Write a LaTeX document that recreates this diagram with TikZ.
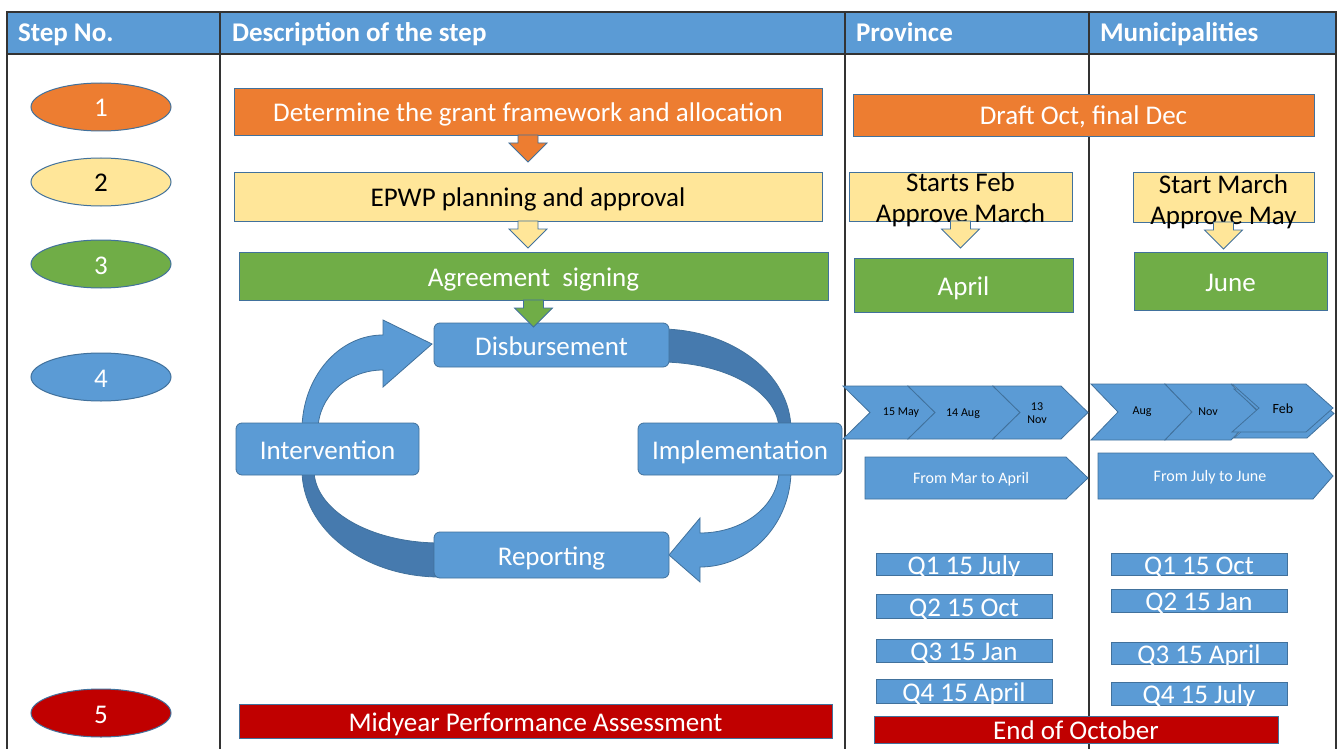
\documentclass[tikz,border=0pt]{standalone}
\usepackage{fontspec}
\setmainfont{Carlito}
\usetikzlibrary{calc,shapes.geometric}

\definecolor{epwpblue}{HTML}{5B9BD5}
\definecolor{epwpedge}{HTML}{41719C}
\definecolor{epwpdark}{HTML}{467AAE}
\definecolor{epwporange}{HTML}{ED7D31}
\definecolor{epwpyellow}{HTML}{FFE699}
\definecolor{epwpgreen}{HTML}{70AD47}
\definecolor{epwpred}{HTML}{C00000}

\newcommand{\bodysize}{\fontsize{27}{31}\selectfont}

% block arrow pointing down out of a box
\newcommand{\blockdown}[2]{%
  \filldraw[fill=#1,draw=epwpedge,line width=0.8pt] (#2) ++(-10,0) -- ++(0,8) -- ++(-9,0)
    -- ++(19,19) -- ++(19,-19) -- ++(-9,0) -- ++(0,-8) -- cycle;}

% chevron: left, top, width, height
\newcommand{\chevron}[4]{%
  \filldraw[fill=epwpblue,draw=epwpedge,line width=0.8pt] (#1,#2) -- ++(#3-27,0) -- ++(27,#4/2)
    -- ++(-27,#4/2) -- ++(-#3+27,0) -- ++(27,-#4/2) -- cycle;}

\begin{document}
\begin{tikzpicture}[x=1pt,y=-1pt,
    every node/.style={inner sep=0pt,outer sep=0pt},
    tablerule/.style={line width=1.4pt,draw=black!80},
    hdr/.style={anchor=base west,text=white,font=\bfseries\bodysize},
    stepno/.style={ellipse,draw=epwpedge,line width=1pt,minimum width=140,minimum height=48,
      text=white,font=\bodysize,text height=20pt,text depth=0pt},
    taskbox/.style={draw=epwpedge,line width=0.8pt,text=white,font=\bodysize,
      text height=20pt,text depth=0pt},
    cyc/.style={taskbox,fill=epwpblue,rounded corners=6pt},
    qbox/.style={taskbox,fill=epwpblue,minimum width=176},
    lightarc/.style={fill=epwpblue,draw=epwpedge,line width=0.8pt},
    darkarc/.style={fill=epwpdark,draw=epwpedge,line width=0.8pt},
    chevtxt/.style={font=\fontsize{12}{13}\selectfont,align=center},
    spantxt/.style={text=white,font=\fontsize{16}{18}\selectfont}]

    \useasboundingbox[fill=white] (0,0) rectangle (1339,749);

    % Table
    \fill[epwpblue] (7,12) rectangle (1336,54);
    \draw[tablerule] (7,749) -- (7,12) -- (1336,12) -- (1336,749);
    \draw[tablerule] (7,54) -- (1336,54);
    \foreach \cx in {220,845,1089}
        \draw[tablerule] (\cx,12) -- (\cx,749);

    \node[hdr] (hstep) at (18,42) {Step No.};
    \node[hdr] (hdesc) at (232,42) {Description of the step};
    \node[hdr] (hprov) at (856,42) {Province};
    \node[hdr] (hmuni) at (1100,42) {Municipalities};

    % Step numbers
    \node[stepno,fill=epwporange] (s1) at (101,107) {1};
    \node[stepno,fill=epwpyellow,text=black] (s2) at (101,182) {2};
    \node[stepno,fill=epwpgreen] (s3) at (101,264) {3};
    \node[stepno,fill=epwpblue] (s4) at (101,377) {4};
    \node[stepno,fill=epwpred] (s5) at (101,713) {5};

    % Steps 1 to 3
    \node[taskbox,fill=epwporange,minimum width=588,minimum height=47] (grant) at (528,111.5)
        {Determine the grant framework and allocation};
    \node[taskbox,fill=epwpyellow,text=black,minimum width=588,minimum height=49] (plan) at (528,196.5)
        {EPWP planning and approval};
    \node[taskbox,fill=epwpgreen,minimum width=589,minimum height=48] (agree) at (533.5,276)
        {Agreement\ \ signing};
    \blockdown{epwporange}{grant.south}
    \blockdown{epwpyellow}{plan.south}

    % Cycle of step 4
    \filldraw[lightarc] (302,430) .. controls (302,378) and (338,335) .. (383,335) -- (383,320)
        -- (432,344) -- (383,387) -- (383,370) .. controls (347,370) and (318,397) .. (318,430) -- cycle;
    \filldraw[darkarc] (660,329) .. controls (732,329) and (791,374) .. (791,430) -- (779,430)
        .. controls (779,392) and (726,362) .. (660,362) -- cycle;
    \filldraw[lightarc] (791,470) .. controls (791,524) and (750,567) .. (700,567) -- (700,582)
        -- (669,555) -- (700,518) -- (700,533) .. controls (744,533) and (779,505) .. (779,470) -- cycle;
    \filldraw[darkarc] (440,577) .. controls (364,577) and (302,529) .. (302,470) -- (314,470)
        .. controls (314,510) and (370,543) .. (440,543) -- cycle;

    \node[cyc,minimum width=235,minimum height=44] (disb) at (551.5,345) {Disbursement};
    \node[cyc,minimum width=204,minimum height=52] (impl) at (740,449) {Implementation};
    \node[cyc,minimum width=235,minimum height=46] (repo) at (551.5,555) {Reporting};
    \node[cyc,minimum width=183,minimum height=52] (inter) at (327.5,449) {Intervention};
    \blockdown{epwpgreen}{agree.south}

    % Step 5
    \node[taskbox,fill=epwpred,minimum width=593,minimum height=34] (midyr) at (535.5,721)
        {Midyear Performance Assessment};

    % Province and municipalities
    \node[taskbox,fill=epwporange,minimum width=461,minimum height=42] (draft) at (1083.5,115)
        {Draft Oct, final Dec};

    \node[taskbox,fill=epwpyellow,minimum width=223,minimum height=49] (pplan) at (960.5,196.5) {};
    \node[font=\bodysize,align=center] (pplantxt) at (960.5,200) {Starts Feb\\Approve March};
    \blockdown{epwpyellow}{pplan.south}
    \node[taskbox,fill=epwpgreen,minimum width=219,minimum height=54] (papr) at (963.5,285) {April};

    \node[taskbox,fill=epwpyellow,minimum width=181,minimum height=50] (mplan) at (1223.5,197) {};
    \node[font=\bodysize,align=center] (mplantxt) at (1223.5,202) {Start March\\Approve May};
    \blockdown{epwpyellow}{mplan.south}
    \node[taskbox,fill=epwpgreen,minimum width=193,minimum height=58] (mjun) at (1230.5,281) {June};

    % Disbursement dates
    \chevron{843}{386}{92}{53}
    \chevron{908}{386}{112}{53}
    \chevron{993}{386}{95}{53}
    \node[chevtxt] (pmay) at (901,413) {15 May};
    \node[chevtxt] (paug) at (963,414) {14 Aug};
    \node[chevtxt] (pnov) at (1037,413) {13\\Nov};

    \chevron{1091}{384}{101}{56}
    \chevron{1165}{384}{93}{56}
    \chevron{1234}{389}{100}{49}
    \chevron{1232}{384}{101}{48}
    \node[chevtxt] (maug) at (1142,412) {Aug};
    \node[chevtxt] (mnov) at (1208,412) {Nov};
    \node[chevtxt,font=\fontsize{14}{16}\selectfont] (mfeb) at (1283,409) {Feb};

    % Implementation periods
    \filldraw[lightarc] (865,457) -- (1066,457) -- (1088,478) -- (1066,499) -- (865,499) -- cycle;
    \node[spantxt] (pspan) at (971,479) {From Mar to April};
    \filldraw[lightarc] (1098,453) -- (1313,453) -- (1333,476) -- (1313,499) -- (1098,499) -- cycle;
    \node[spantxt] (mspan) at (1210,477) {From July to June};

    % Quarterly reports
    \node[qbox,minimum height=22] (pq1) at (964,564) {Q1 15 July};
    \node[qbox,minimum height=24] (pq2) at (964,606) {Q2 15 Oct};
    \node[qbox,minimum height=23] (pq3) at (964,650.5) {Q3 15 Jan};
    \node[qbox,minimum height=24] (pq4) at (964,691) {Q4 15 April};

    \node[qbox,minimum height=22] (mq1) at (1199,564) {Q1 15 Oct};
    \node[qbox,minimum height=23] (mq2) at (1199,600.5) {Q2 15 Jan};
    \node[qbox,minimum height=22] (mq3) at (1199,653) {Q3 15 April};
    \node[qbox,minimum height=23] (mq4) at (1199,693.5) {Q4 15 July};

    \node[taskbox,fill=epwpred,minimum width=404,minimum height=27] (endoct) at (1076,729.5)
        {End of October};

\end{tikzpicture}
\end{document}
